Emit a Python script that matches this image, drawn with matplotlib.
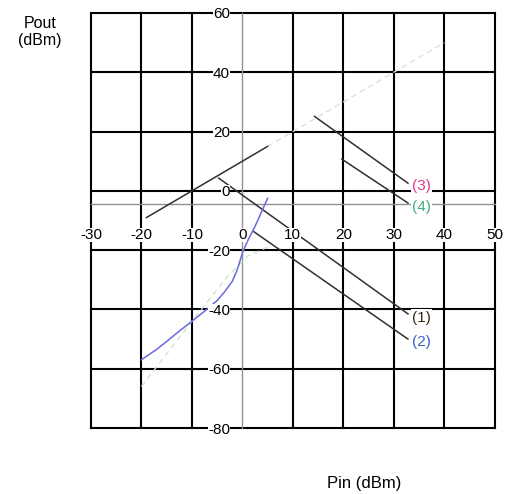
import matplotlib
matplotlib.use("Agg")
import matplotlib.pyplot as plt

plt.rcParams['font.family'] = ['Liberation Sans', 'DejaVu Sans']
plt.rcParams['axes.unicode_minus'] = False

# axis ticks
xticks = [-30, -20, -10, 0, 10, 20, 30, 40, 50]
yticks = [-80, -60, -40, -20, 0, 20, 40, 60]

# (Pin, Pout) traces in dBm
lin_x = [-19, 5]
lin_y = [-9, 15]
ideal_x = [5, 40]
ideal_y = [15, 50]
c3_x = [14.3, 32.8]
c3_y = [25.1, 2.6]
c4_x = [19.7, 32.8]
c4_y = [10.7, -4.1]
c1_x = [-4.7, 32.8]
c1_y = [4.3, -41.5]
c2_x = [2.2, 32.8]
c2_y = [-13.7, -50.0]
blue_x = [-20, -17, -15, -12.5, -10, -7.5, -5, -3.5, -2, -1, 0, 1, 2.5, 5]
blue_y = [-57, -53.5, -50.8, -47.3, -44, -40.6, -37, -34, -30.5, -26.5, -21, -17, -12, -2.5]
green_x = [-20, -10, -3, 1, 5]
green_y = [-66, -44, -29, -22, -19]

labels = ['(3)', '(4)', '(1)', '(2)']
label_x = [33.6, 33.6, 33.6, 33.6]
label_y = [1.7, -5.4, -42.8, -51.0]
label_colors = ['#e0358a', '#3fae7a', '#3a2a1a', '#3a5fd0']

fig = plt.figure(figsize=(5.06, 4.94), dpi=100)
ax = fig.add_axes([0.1798, 0.1336, 0.798, 0.8401])
ax.set_xlim(-30, 50)
ax.set_ylim(-80, 60)

# black grid, the x=0 line is left to the gray axis
for x in xticks:
    if x != 0:
        ax.axvline(x, color='black', lw=1.5, clip_on=False, zorder=1)
for y in yticks:
    ax.axhline(y, color='black', lw=1.5, clip_on=False, zorder=1)

for s in ax.spines.values():
    s.set_visible(False)
ax.spines['left'].set_visible(True)
ax.spines['bottom'].set_visible(True)
ax.spines['left'].set_position(('data', 0))
ax.spines['bottom'].set_position(('data', -4.4))
ax.spines['left'].set_color('#909090')
ax.spines['bottom'].set_color('#909090')
ax.spines['left'].set_linewidth(1.0)
ax.spines['bottom'].set_linewidth(1.0)

ax.set_xticks(xticks)
ax.set_yticks(yticks)
ax.tick_params(length=0, labelsize=11)
ax.tick_params(axis='x', pad=17)
ax.tick_params(axis='y', pad=9)
for t in ax.get_xticklabels() + ax.get_yticklabels():
    t.set_bbox(dict(facecolor='white', edgecolor='none', pad=0))
ax.xaxis.set_zorder(5)
ax.yaxis.set_zorder(5)

# traces
ax.plot(ideal_x, ideal_y, color='#dedede', lw=1.0, ls=(0, (4, 3)), zorder=3)
ax.plot(green_x, green_y, color='#cfe3c8', lw=1.0, ls=(0, (4, 3)), zorder=3)
ax.plot(lin_x, lin_y, color='#303030', lw=1.1, zorder=4)
ax.plot(c3_x, c3_y, color='#303030', lw=1.1, zorder=4)
ax.plot(c4_x, c4_y, color='#303030', lw=1.1, zorder=4)
ax.plot(c1_x, c1_y, color='#303030', lw=1.1, zorder=4)
ax.plot(c2_x, c2_y, color='#303030', lw=1.1, zorder=4)
ax.plot(blue_x, blue_y, color='#6a6ae0', lw=1.1, zorder=4)

for txt, x, y, c in zip(labels, label_x, label_y, label_colors):
    ax.text(x, y, txt, color=c, fontsize=11, ha='left', va='center', zorder=6,
            bbox=dict(facecolor='white', edgecolor='none', pad=1))

fig.text(40 / 506, 1 - 32 / 494, 'Pout\n(dBm)', ha='center', va='center',
         fontsize=11.5, linespacing=1.1)
fig.text(364 / 506, 1 - 483 / 494, 'Pin (dBm)', ha='center', va='center',
         fontsize=12)

fig.savefig('out.png', dpi=100)
